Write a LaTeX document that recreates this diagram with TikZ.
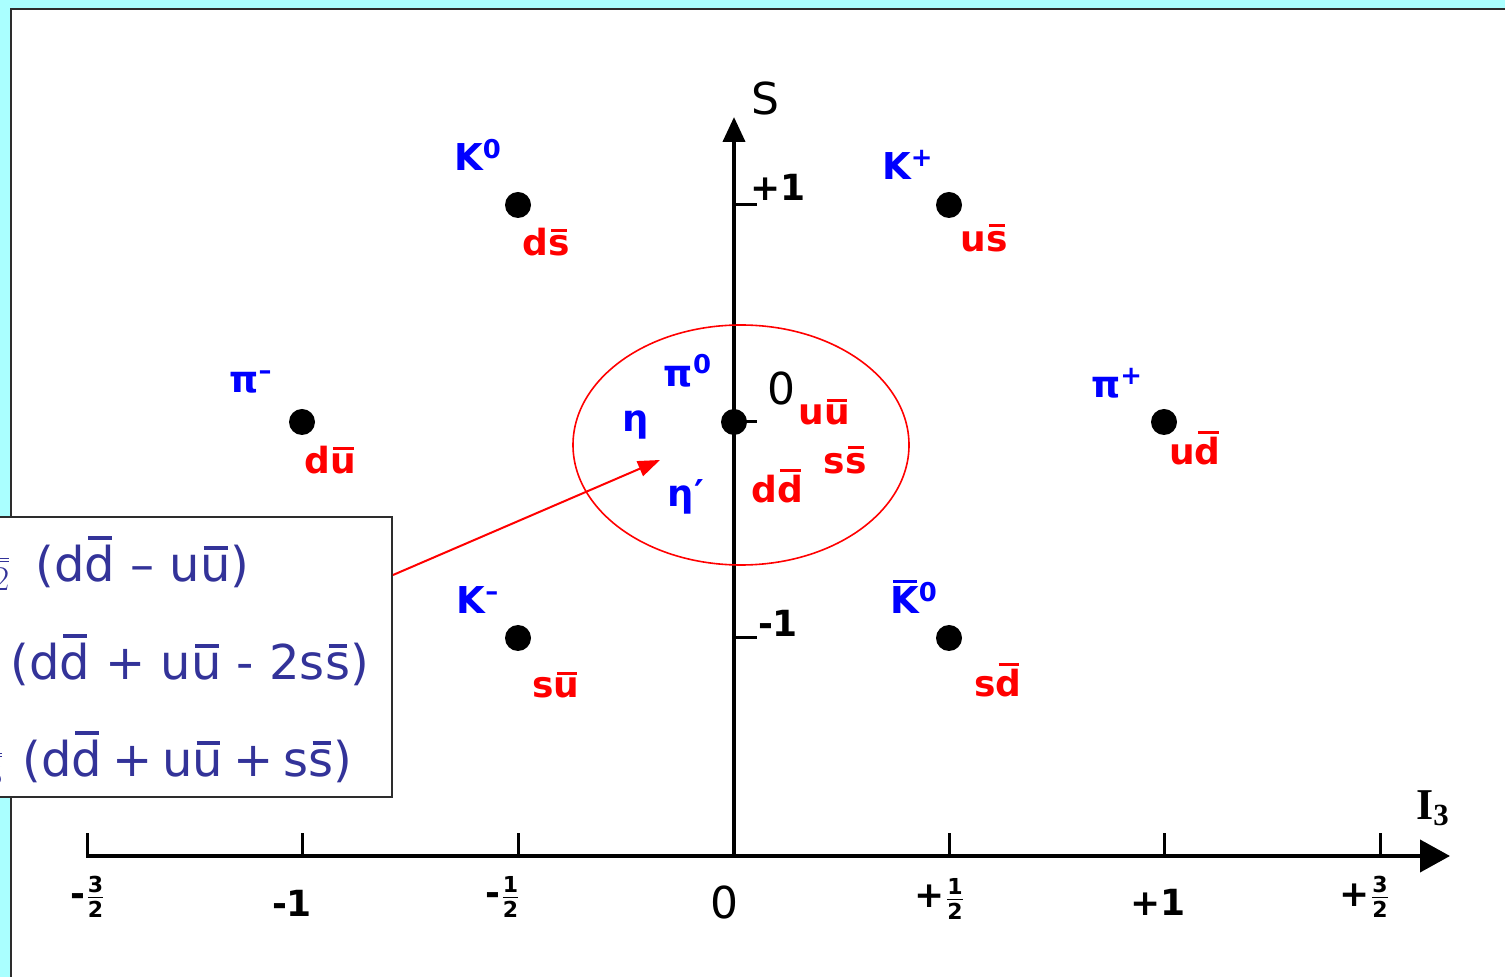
\documentclass[tikz,border=0pt]{standalone}
\usepackage{fontspec}
\setmainfont{DejaVu Sans}
\newfontfamily\serifI{Liberation Serif}
\usetikzlibrary{arrows.meta,calc}
\definecolor{bgcyan}{RGB}{170,255,255}
\definecolor{lblue}{RGB}{0,0,255}
\definecolor{lred}{RGB}{255,0,0}
\definecolor{boxblue}{RGB}{51,51,153}
\definecolor{framegray}{RGB}{45,45,45}
\newsavebox\qbbox
\newcommand\qb[1]{\sbox\qbbox{#1}\leavevmode\rlap{\hspace{0.08em}\raisebox{\dimexpr\ht\qbbox+0.1em\relax}{\rule{\dimexpr\wd\qbbox-0.14em\relax}{0.08em}}}\usebox\qbbox}
\newcommand\fr[2]{\ensuremath{\frac{\mbox{\fontsize{11}{11}\selectfont\bfseries #1}}{\mbox{\fontsize{11}{11}\selectfont\bfseries #2}}}}
\newcommand\tsp{\hspace{0.21em}}
\tikzset{
  mes/.style={text=lblue, font=\fontsize{18.5}{18.5}\selectfont\bfseries, inner sep=0},
  qk/.style={text=lred, font=\fontsize{18}{18}\selectfont\bfseries, inner sep=0},
  dot/.style={circle, fill=black, inner sep=0, minimum size=13pt},
  axisline/.style={line width=2pt, black},
  tickline/.style={line width=1.5pt, black},
  ticklab/.style={font=\fontsize{18}{18}\selectfont\bfseries, inner sep=0},
  eqtxt/.style={text=boxblue, font=\fontsize{24}{24}\selectfont, inner sep=0},
  mixbox/.style={draw=framegray, line width=1pt, fill=white, inner sep=0, minimum width=201pt, minimum height=140pt},
  arr/.style={lred, line width=1pt, -{Triangle[length=11pt,width=8pt]}}
}
\begin{document}
\begin{tikzpicture}[x=0.5pt,y=-0.5pt]
\useasboundingbox (0,0) rectangle (1505,977);
% background
\fill[bgcyan] (0,0) rectangle (1505,977);
\fill[white] (10,8) rectangle (1510,985);
\draw[framegray, line width=1.4pt] (11,990) -- (11,9) -- (1510,9);

% axes
\draw[axisline, -{Triangle[length=15pt,width=16pt]}] (86,856) -- (1450,856);
\draw[axisline, -{Triangle[length=12.5pt,width=11pt]}] (734,857) -- (734,117);
\foreach \xx in {87,302,518,949,1164,1380}
  \draw[tickline] (\xx,856) -- (\xx,833);
\draw[tickline] (734,205) -- (757,205);
\draw[tickline] (734,638) -- (757,638);
\draw[tickline] (734,422) -- (757,422);

% axis labels
\node[font=\fontsize{22}{22}\selectfont, inner sep=0] (S) at (765,98) {S};
\node[font=\fontsize{22}{22}\selectfont\serifI\bfseries, inner sep=0] (I3) at (1433,808) {I\textsubscript{3}};
\node[ticklab] (vp1) at (778,187) {+1};
\node[ticklab] (vm1) at (778,623) {-1};
\node[font=\fontsize{22}{22}\selectfont, inner sep=0] (v0) at (781,388) {0};
\node[ticklab] (hm32) at (88,897) {-\fr{3}{2}};
\node[ticklab] (hm1) at (292,903) {-1};
\node[ticklab] (hm12) at (503,897) {-\fr{1}{2}};
\node[font=\fontsize{22}{22}\selectfont, inner sep=0] (h0) at (724,902) {0};
\node[ticklab] (hp12) at (940,899) {+\fr{1}{2}};
\node[ticklab] (hp1) at (1158,902) {+1};
\node[ticklab] (hp32) at (1365,897) {+\fr{3}{2}};

% ellipse
\draw[lred, line width=0.8pt] (741,445) ellipse [x radius=84pt, y radius=60pt];

% dots
\node[dot] (d1) at (518,205) {};
\node[dot] (d2) at (949,205) {};
\node[dot] (d3) at (302,422) {};
\node[dot] (d4) at (734,422) {};
\node[dot] (d5) at (1164,422) {};
\node[dot] (d6) at (518,638) {};
\node[dot] (d7) at (949,638) {};

% meson labels
\node[mes] (K0) at (478,155) {K\textsuperscript{0}};
\node[mes] (Kp) at (908,165) {K\textsuperscript{+}};
\node[mes] (pim) at (251,382) {π\textsuperscript{–}};
\node[mes] (pip) at (1117,383) {π\textsuperscript{+}};
\node[mes] (Km) at (478,600) {K\textsuperscript{–}};
\node[mes] (K0b) at (914,597) {\qb{K}\textsuperscript{0}};
\node[mes] (pi0) at (688,371) {π\textsuperscript{0}};
\node[mes] (eta) at (636,425) {η};
\node[mes] (etap) at (686,497) {η′};

% quark labels
\node[qk] (q1) at (546,242) {d\qb{s}};
\node[qk] (q2) at (984,238) {u\qb{s}};
\node[qk] (q3) at (330,460) {d\qb{u}};
\node[qk] (q4) at (1195,448) {u\qb{d}};
\node[qk] (q5) at (556,685) {s\qb{u}};
\node[qk] (q6) at (998,680) {s\qb{d}};
\node[qk] (q7) at (824,412) {u\qb{u}};
\node[qk] (q8) at (845,460) {s\qb{s}};
\node[qk] (q9) at (777,486) {d\qb{d}};

% mixing box
\node[mixbox] (box) at (191,657) {};
\begin{scope}
\clip (0,0) rectangle (1505,977);
\node[eqtxt, anchor=east] (f1) at (12,562) {$\frac{1}{\sqrt{2}}$};
\node[eqtxt, anchor=east] (f3) at (5,757) {$\frac{1}{\sqrt{3}}$};
\end{scope}
\node[eqtxt, anchor=west] (e1) at (35,562) {(d\qb{d} – u\qb{u})};
\node[eqtxt, anchor=west] (e2) at (10,660) {(d\qb{d} + u\qb{u} - 2s\qb{s})};
\node[eqtxt, anchor=west] (e3) at (22,757) {(d\qb{d}\tsp+\tsp u\qb{u}\tsp+\tsp s\qb{s})};

% arrow
\coordinate (etip) at (660,460);
\draw[arr] ([yshift=41pt]box.east) -- (etip);
\end{tikzpicture}
\end{document}
